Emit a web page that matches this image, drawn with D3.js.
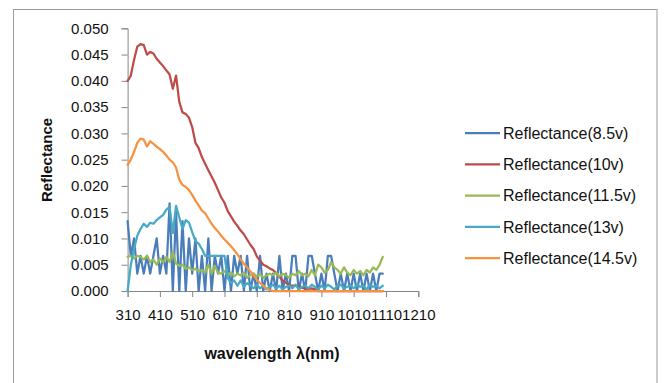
<!DOCTYPE html>
<html><head><meta charset="utf-8">
<script src="https://cdn.jsdelivr.net/npm/d3@7"></script>
<style>html,body{margin:0;padding:0;background:#fff;}svg{display:block;}</style>
</head><body><svg id="c" width="664" height="383"></svg>
<script>
const wavelengths = d3.range(310, 1101, 10);
const xTicks = [310, 410, 510, 610, 710, 810, 910, 1010, 1110, 1210];
const yTicks = [0, 0.005, 0.01, 0.015, 0.02, 0.025, 0.03, 0.035, 0.04, 0.045, 0.05];
const seriesNames = ["Reflectance(8.5v)", "Reflectance(10v)", "Reflectance(11.5v)", "Reflectance(13v)", "Reflectance(14.5v)"];
const seriesColors = ["#4A7EBB", "#BE4B48", "#98B954", "#46AAC5", "#F69240"];

const r85 = [
 0.0133,0.0067,0.0100,0.0033,0.0067,0.0033,0.0067,0.0033,0.0067,0.0100,
 0.0033,0.0067,0.0033,0.0167,0.0000,0.0150,0.0000,0.0133,0.0000,0.0100,
 0.0033,0.0100,0.0000,0.0067,0.0000,0.0100,0.0000,0.0067,0.0033,0.0067,
 0.0000,0.0067,0.0000,0.0067,0.0033,0.0067,0.0000,0.0067,0.0000,0.0033,
 0.0000,0.0067,0.0000,0.0033,0.0000,0.0033,0.0000,0.0067,0.0000,0.0033,
 0.0000,0.0067,0.0067,0.0000,0.0033,0.0000,0.0067,0.0067,0.0033,0.0000,
 0.0033,0.0000,0.0067,0.0067,0.0033,0.0000,0.0033,0.0000,0.0033,0.0000,
 0.0033,0.0000,0.0033,0.0000,0.0033,0.0000,0.0033,0.0000,0.0033,0.0033];
const r10 = [
 0.0400,0.0410,0.0440,0.0465,0.0470,0.0468,0.0450,0.0455,0.0452,0.0442,
 0.0435,0.0428,0.0420,0.0412,0.0385,0.0410,0.0360,0.0340,0.0337,0.0330,
 0.0312,0.0282,0.0272,0.0255,0.0242,0.0230,0.0218,0.0206,0.0192,0.0178,
 0.0168,0.0152,0.0142,0.0132,0.0124,0.0115,0.0108,0.0098,0.0088,0.0080,
 0.0066,0.0058,0.0050,0.0047,0.0043,0.0040,0.0034,0.0027,0.0020,0.0016,
 0.0011,0.0010,0.0010,0.0008,0.0006,0.0005,0.0004,0.0005,0.0003,0,
 0,0,0,0,0,0,0,0,0,0,
 0,0,0,0,0,0,0,0,0,0];
const r115 = [
 0.0065,0.0067,0.0062,0.0067,0.0065,0.0060,0.0067,0.0055,0.0060,0.0050,
 0.0062,0.0055,0.0065,0.0055,0.0075,0.0052,0.0048,0.0050,0.0042,0.0045,
 0.0040,0.0042,0.0038,0.0040,0.0035,0.0050,0.0033,0.0048,0.0035,0.0033,
 0.0038,0.0030,0.0035,0.0028,0.0033,0.0030,0.0035,0.0025,0.0030,0.0033,
 0.0028,0.0032,0.0025,0.0030,0.0033,0.0030,0.0035,0.0028,0.0033,0.0030,
 0.0025,0.0033,0.0030,0.0038,0.0030,0.0033,0.0028,0.0040,0.0030,0.0050,
 0.0045,0.0035,0.0040,0.0055,0.0045,0.0040,0.0033,0.0045,0.0035,0.0030,
 0.0040,0.0033,0.0038,0.0030,0.0040,0.0035,0.0045,0.0040,0.0050,0.0065];
const r13 = [
 0.0000,0.0050,0.0080,0.0105,0.0118,0.0128,0.0122,0.0130,0.0128,0.0135,
 0.0140,0.0145,0.0155,0.0160,0.0110,0.0162,0.0140,0.0118,0.0135,0.0130,
 0.0112,0.0095,0.0090,0.0080,0.0067,0.0067,0.0067,0.0067,0.0067,0.0067,
 0.0067,0.0025,0.0015,0.0020,0.0010,0.0020,0.0008,0.0015,0.0010,0.0005,
 0.0012,0.0005,0.0010,0.0003,0.0008,0.0012,0.0005,0.0010,0.0003,0.0008,
 0.0010,0.0005,0.0012,0.0003,0.0008,0.0010,0.0005,0.0012,0.0008,0.0003,
 0.0010,0.0005,0.0012,0.0008,0.0003,0.0010,0.0012,0.0005,0.0008,0.0010,
 0.0005,0.0012,0.0008,0.0010,0.0003,0.0012,0.0008,0.0010,0.0005,0.0010];
const r145 = [
 0.0240,0.0250,0.0265,0.0282,0.0290,0.0288,0.0275,0.0285,0.0280,0.0275,
 0.0270,0.0265,0.0258,0.0250,0.0245,0.0235,0.0212,0.0202,0.0198,0.0192,
 0.0183,0.0172,0.0163,0.0153,0.0148,0.0138,0.0128,0.0120,0.0113,0.0105,
 0.0098,0.0092,0.0085,0.0078,0.0070,0.0060,0.0052,0.0045,0.0037,0.0030,
 0.0022,0.0015,0.0010,0.0005,0.0002,0,0,0,0,0,
 0,0,0,0,0,0,0,0,0,0,
 0,0,0,0,0,0,0,0,0,0,
 0,0,0,0,0,0,0,0,0,0];
const seriesValues = [r85, r10, r115, r13, r145];

const svg = d3.select("#c");
const font = "'Liberation Sans', Arial, sans-serif";

// chart frame
svg.append("rect").attr("x", 13.5).attr("y", 9.5).attr("width", 643.5).attr("height", 380)
  .attr("fill", "#fff").attr("stroke", "#9a9a9a").attr("stroke-width", 1);

const x = d3.scaleLinear().domain([310, 1210]).range([127.6, 418.3]);
const y = d3.scaleLinear().domain([0, 0.05]).range([291, 28.3]);

// y axis
const yAx = svg.append("g").attr("transform", "translate(127.6,0)")
  .call(d3.axisLeft(y).tickValues(yTicks).tickFormat(d3.format(".3f")).tickSize(6).tickPadding(13));
// x axis
const xAx = svg.append("g").attr("transform", "translate(0,291)")
  .call(d3.axisBottom(x).tickValues(xTicks).tickFormat(d3.format("d")).tickSize(6).tickPadding(12));
[yAx, xAx].forEach(g => {
  g.select(".domain").attr("stroke", "#868686");
  g.selectAll(".tick line").attr("stroke", "#868686");
  g.selectAll("text").attr("font-family", font).attr("font-size", 15).attr("fill", "#111");
});

// lines
const line = d3.line().x((d, i) => x(wavelengths[i])).y(d => y(d));
seriesValues.forEach((vals, k) => {
  svg.append("path").datum(vals).attr("d", line)
    .attr("fill", "none").attr("stroke", seriesColors[k]).attr("stroke-width", 2.25)
    .attr("stroke-linejoin", "round").attr("stroke-linecap", "round");
});

// axis titles
svg.append("text").attr("transform", "translate(52,160) rotate(-90)")
  .attr("text-anchor", "middle").attr("font-family", font).attr("font-weight", "bold")
  .attr("font-size", 15).attr("fill", "#111").text("Reflectance");
svg.append("text").attr("x", 272).attr("y", 359)
  .attr("text-anchor", "middle").attr("font-family", font).attr("font-weight", "bold")
  .attr("font-size", 16).attr("fill", "#111").text("wavelength λ(nm)");

// legend
const lg = svg.append("g");
seriesNames.forEach((name, k) => {
  const cy = 133 + k * 31.3;
  lg.append("line").attr("x1", 465).attr("x2", 500).attr("y1", cy).attr("y2", cy)
    .attr("stroke", seriesColors[k]).attr("stroke-width", 2.25);
  lg.append("text").attr("x", 503).attr("y", cy).attr("dy", "0.35em")
    .attr("font-family", font).attr("font-size", 16).attr("fill", "#111").text(name);
});
</script></body></html>
